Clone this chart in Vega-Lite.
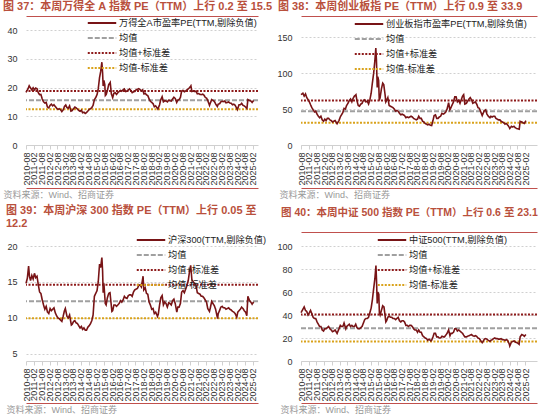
{
"$schema": "https://vega.github.io/schema/vega-lite/v6.json",
"padding": {"left": 3, "top": 1, "right": 4, "bottom": 2},
"columns": 2,
"bounds": "flush",
"spacing": {"row": 101, "column": 43},
"resolve": {"scale": {"color": "independent", "strokeDash": "independent"}, "legend": {"color": "independent", "strokeDash": "independent"}},
"config": {
  "font": "Liberation Sans, Noto Sans CJK SC",
  "view": {"stroke": null},
  "title": {"anchor": "start", "frame": "group", "fontSize": 11, "fontWeight": "bold", "color": "#B9503C", "font": "Liberation Sans, Noto Sans CJK SC"},
  "axisY": {"domain": false, "ticks": false, "grid": true, "gridColor": "#D0D0D0", "gridDash": [2, 2], "labelFontSize": 9, "labelColor": "#333333", "labelPadding": 9},
  "axisX": {"domainColor": "#D0D0D0", "tickColor": "#D0D0D0", "tickSize": 4, "grid": false, "labelAngle": 270, "labelFontSize": 9, "labelColor": "#333333", "labelPadding": 3, "labelOverlap": false, "titleFontSize": 9, "titleColor": "#999999", "titleFontWeight": "normal", "titleAlign": "left", "titleBaseline": "middle", "titleAnchor": "start"},
  "legend": {"orient": "none", "symbolType": "M-3,0H3", "symbolSize": 90, "symbolStrokeWidth": 2.2, "labelFontSize": 9.2, "labelColor": "#222222", "labelOffset": 11, "rowPadding": 3, "labelLimit": 400, "padding": 0}
},
"datasets": {
"wind_m": [{"s": "均值", "v": 15.6}, {"s": "均值+标准差", "v": 18.8}, {"s": "均值-标准差", "v": 12.4}],
"cyb_m": [{"s": "均值", "v": 47}, {"s": "均值+标准差", "v": 62}, {"s": "均值-标准差", "v": 31}],
"hs_m": [{"s": "均值", "v": 12.3}, {"s": "均值+标准差", "v": 14.6}, {"s": "均值-标准差", "v": 9.95}],
"zz_m": [{"s": "均值", "v": 28.5}, {"s": "均值+标准差", "v": 40.5}, {"s": "均值-标准差", "v": 17}],
"wind": [
{"d":"2010/08/01","v":18.3},{"d":"2010/09/15","v":19.5},{"d":"2010/10/15","v":20.6},{"d":"2010/11/15","v":19.8},{"d":"2010/12/15","v":19.2},
{"d":"2011/01/15","v":19.9},{"d":"2011/02/15","v":19.2},{"d":"2011/03/15","v":19.8},{"d":"2011/04/15","v":19.6},{"d":"2011/05/15","v":18.2},{"d":"2011/06/15","v":17.5},{"d":"2011/07/15","v":17.6},{"d":"2011/08/15","v":16.0},{"d":"2011/09/15","v":15.0},{"d":"2011/10/15","v":14.6},{"d":"2011/11/15","v":14.8},{"d":"2011/12/15","v":13.2},
{"d":"2012/01/15","v":12.9},{"d":"2012/02/15","v":13.8},{"d":"2012/03/15","v":14.2},{"d":"2012/04/15","v":13.6},{"d":"2012/05/15","v":14.0},{"d":"2012/06/15","v":13.4},{"d":"2012/07/15","v":12.8},{"d":"2012/08/15","v":12.4},{"d":"2012/09/15","v":12.6},{"d":"2012/10/15","v":12.3},{"d":"2012/11/15","v":11.6},{"d":"2012/12/15","v":12.2},
{"d":"2013/01/15","v":13.4},{"d":"2013/02/15","v":13.9},{"d":"2013/03/15","v":13.0},{"d":"2013/04/15","v":12.8},{"d":"2013/05/15","v":13.6},{"d":"2013/06/15","v":11.8},{"d":"2013/07/15","v":12.0},{"d":"2013/08/15","v":12.6},{"d":"2013/09/15","v":13.2},{"d":"2013/10/15","v":12.9},{"d":"2013/11/15","v":12.5},{"d":"2013/12/15","v":12.0},
{"d":"2014/01/15","v":11.7},{"d":"2014/02/15","v":12.1},{"d":"2014/03/15","v":11.2},{"d":"2014/04/15","v":11.4},{"d":"2014/05/15","v":11.0},{"d":"2014/06/15","v":11.3},{"d":"2014/07/15","v":11.8},{"d":"2014/08/15","v":12.4},{"d":"2014/09/15","v":12.6},{"d":"2014/10/15","v":13.0},{"d":"2014/11/15","v":13.8},{"d":"2014/12/15","v":15.8},
{"d":"2015/01/15","v":16.5},{"d":"2015/02/15","v":17.5},{"d":"2015/03/15","v":19.5},{"d":"2015/04/15","v":23.5},{"d":"2015/05/10","v":25.5},{"d":"2015/06/08","v":28.8},{"d":"2015/06/25","v":25.0},{"d":"2015/07/08","v":20.5},{"d":"2015/07/25","v":22.5},{"d":"2015/08/15","v":21.0},{"d":"2015/08/28","v":17.2},{"d":"2015/09/15","v":17.5},{"d":"2015/10/15","v":19.0},{"d":"2015/11/15","v":21.0},{"d":"2015/12/20","v":21.8},
{"d":"2016/01/15","v":17.8},{"d":"2016/02/15","v":16.5},{"d":"2016/03/15","v":18.0},{"d":"2016/04/15","v":18.2},{"d":"2016/05/15","v":17.6},{"d":"2016/06/15","v":18.2},{"d":"2016/07/15","v":18.6},{"d":"2016/08/15","v":19.0},{"d":"2016/09/15","v":18.7},{"d":"2016/10/15","v":19.2},{"d":"2016/11/15","v":19.5},{"d":"2016/12/15","v":18.6},
{"d":"2017/01/15","v":18.7},{"d":"2017/02/15","v":19.2},{"d":"2017/03/15","v":19.5},{"d":"2017/04/15","v":19.0},{"d":"2017/05/15","v":18.2},{"d":"2017/06/15","v":18.5},{"d":"2017/07/15","v":18.6},{"d":"2017/08/15","v":19.2},{"d":"2017/09/15","v":19.4},{"d":"2017/10/15","v":19.6},{"d":"2017/11/15","v":19.3},{"d":"2017/12/15","v":18.8},
{"d":"2018/01/15","v":19.2},{"d":"2018/02/15","v":17.8},{"d":"2018/03/15","v":18.0},{"d":"2018/04/15","v":17.4},{"d":"2018/05/15","v":17.2},{"d":"2018/06/15","v":16.0},{"d":"2018/07/15","v":15.2},{"d":"2018/08/15","v":14.8},{"d":"2018/09/15","v":14.4},{"d":"2018/10/15","v":13.3},{"d":"2018/11/15","v":13.6},{"d":"2018/12/15","v":13.0},
{"d":"2019/01/05","v":12.5},{"d":"2019/02/15","v":14.0},{"d":"2019/03/10","v":15.6},{"d":"2019/04/15","v":16.8},{"d":"2019/05/15","v":15.0},{"d":"2019/06/15","v":15.4},{"d":"2019/07/15","v":15.3},{"d":"2019/08/15","v":15.0},{"d":"2019/09/15","v":15.6},{"d":"2019/10/15","v":15.4},{"d":"2019/11/15","v":15.3},{"d":"2019/12/15","v":16.0},
{"d":"2020/01/15","v":16.6},{"d":"2020/02/15","v":16.2},{"d":"2020/03/20","v":14.8},{"d":"2020/04/15","v":15.6},{"d":"2020/05/15","v":15.8},{"d":"2020/06/15","v":16.5},{"d":"2020/07/15","v":18.8},{"d":"2020/08/15","v":19.0},{"d":"2020/09/15","v":18.5},{"d":"2020/10/15","v":18.8},{"d":"2020/11/15","v":19.2},{"d":"2020/12/15","v":19.5},
{"d":"2021/01/15","v":20.0},{"d":"2021/02/15","v":20.6},{"d":"2021/03/10","v":18.6},{"d":"2021/04/15","v":18.8},{"d":"2021/05/15","v":18.6},{"d":"2021/06/15","v":18.7},{"d":"2021/07/15","v":17.8},{"d":"2021/08/15","v":17.9},{"d":"2021/09/15","v":17.6},{"d":"2021/10/15","v":17.5},{"d":"2021/11/15","v":17.7},{"d":"2021/12/15","v":17.4},
{"d":"2022/01/15","v":16.6},{"d":"2022/02/15","v":16.3},{"d":"2022/03/15","v":15.5},{"d":"2022/04/25","v":13.8},{"d":"2022/05/15","v":14.6},{"d":"2022/06/15","v":15.8},{"d":"2022/07/15","v":15.5},{"d":"2022/08/15","v":15.2},{"d":"2022/09/15","v":14.3},{"d":"2022/10/25","v":13.4},{"d":"2022/11/15","v":14.2},{"d":"2022/12/15","v":14.3},
{"d":"2023/01/15","v":15.0},{"d":"2023/02/15","v":15.2},{"d":"2023/03/15","v":15.1},{"d":"2023/04/15","v":15.3},{"d":"2023/05/15","v":14.7},{"d":"2023/06/15","v":14.8},{"d":"2023/07/15","v":15.0},{"d":"2023/08/15","v":14.6},{"d":"2023/09/15","v":14.5},{"d":"2023/10/15","v":14.0},{"d":"2023/11/15","v":14.2},{"d":"2023/12/15","v":13.8},
{"d":"2024/01/20","v":12.8},{"d":"2024/02/05","v":12.3},{"d":"2024/03/15","v":14.0},{"d":"2024/04/15","v":14.0},{"d":"2024/05/15","v":14.5},{"d":"2024/06/15","v":13.8},{"d":"2024/07/15","v":13.6},{"d":"2024/08/15","v":13.2},{"d":"2024/09/15","v":12.7},{"d":"2024/10/08","v":15.8},{"d":"2024/11/15","v":15.5},{"d":"2024/12/15","v":15.3},
{"d":"2025/01/15","v":14.8},{"d":"2025/02/20","v":15.5}
],
"cyb": [
{"d":"2010/08/01","v":70},{"d":"2010/09/15","v":72},{"d":"2010/10/15","v":68},{"d":"2010/11/15","v":71},{"d":"2010/12/15","v":66},
{"d":"2011/01/15","v":63},{"d":"2011/02/15","v":60},{"d":"2011/03/15","v":56},{"d":"2011/04/15","v":52},{"d":"2011/05/15","v":49},{"d":"2011/06/15","v":46},{"d":"2011/07/15","v":47},{"d":"2011/08/15","v":43},{"d":"2011/09/15","v":40},{"d":"2011/10/15","v":38},{"d":"2011/11/15","v":40},{"d":"2011/12/15","v":35},
{"d":"2012/01/15","v":33},{"d":"2012/02/15","v":36},{"d":"2012/03/15","v":34},{"d":"2012/04/15","v":37},{"d":"2012/05/15","v":37},{"d":"2012/06/15","v":35},{"d":"2012/07/15","v":34},{"d":"2012/08/15","v":32},{"d":"2012/09/15","v":33},{"d":"2012/10/15","v":34},{"d":"2012/11/15","v":31},{"d":"2012/12/01","v":29.5},
{"d":"2013/01/15","v":34},{"d":"2013/02/15","v":39},{"d":"2013/03/15","v":42},{"d":"2013/04/15","v":45},{"d":"2013/05/15","v":51},{"d":"2013/06/15","v":50},{"d":"2013/07/15","v":55},{"d":"2013/08/15","v":58},{"d":"2013/09/15","v":62},{"d":"2013/10/15","v":64},{"d":"2013/11/15","v":60},{"d":"2013/12/15","v":65},
{"d":"2014/01/15","v":68},{"d":"2014/02/20","v":70},{"d":"2014/03/15","v":62},{"d":"2014/04/15","v":55},{"d":"2014/05/15","v":54},{"d":"2014/06/15","v":57},{"d":"2014/07/15","v":58},{"d":"2014/08/15","v":62},{"d":"2014/09/15","v":63},{"d":"2014/10/15","v":60},{"d":"2014/11/15","v":61},{"d":"2014/12/15","v":57},
{"d":"2015/01/15","v":63},{"d":"2015/02/15","v":72},{"d":"2015/03/15","v":86},{"d":"2015/04/15","v":100},{"d":"2015/05/15","v":118},{"d":"2015/06/05","v":135},{"d":"2015/06/20","v":118},{"d":"2015/07/08","v":80},{"d":"2015/07/22","v":95},{"d":"2015/08/10","v":90},{"d":"2015/08/26","v":62},{"d":"2015/09/15","v":66},{"d":"2015/10/15","v":78},{"d":"2015/11/15","v":86},{"d":"2015/12/10","v":84},
{"d":"2016/01/10","v":70},{"d":"2016/01/28","v":60},{"d":"2016/02/15","v":62},{"d":"2016/03/15","v":66},{"d":"2016/04/15","v":55},{"d":"2016/05/15","v":54},{"d":"2016/06/15","v":53},{"d":"2016/07/15","v":52},{"d":"2016/08/15","v":50},{"d":"2016/09/15","v":47},{"d":"2016/10/15","v":48},{"d":"2016/11/15","v":47},{"d":"2016/12/15","v":44},
{"d":"2017/01/15","v":42},{"d":"2017/02/15","v":43},{"d":"2017/03/15","v":42},{"d":"2017/04/15","v":41},{"d":"2017/05/15","v":38},{"d":"2017/06/15","v":39},{"d":"2017/07/15","v":38},{"d":"2017/08/15","v":39},{"d":"2017/09/15","v":40},{"d":"2017/10/15","v":39},{"d":"2017/11/15","v":37},{"d":"2017/12/15","v":36},
{"d":"2018/01/15","v":35},{"d":"2018/02/15","v":36},{"d":"2018/03/15","v":40},{"d":"2018/04/15","v":37},{"d":"2018/05/15","v":37},{"d":"2018/06/15","v":33},{"d":"2018/07/15","v":32},{"d":"2018/08/15","v":30},{"d":"2018/09/15","v":29},{"d":"2018/10/15","v":28},{"d":"2018/11/15","v":29},{"d":"2018/12/15","v":27.5},
{"d":"2019/01/15","v":27},{"d":"2019/02/15","v":34},{"d":"2019/03/15","v":41},{"d":"2019/04/15","v":42},{"d":"2019/05/15","v":37},{"d":"2019/06/15","v":37},{"d":"2019/07/15","v":39},{"d":"2019/08/15","v":40},{"d":"2019/09/15","v":44},{"d":"2019/10/15","v":43},{"d":"2019/11/15","v":44},{"d":"2019/12/15","v":46},
{"d":"2020/01/15","v":50},{"d":"2020/02/20","v":59},{"d":"2020/03/20","v":49},{"d":"2020/04/15","v":52},{"d":"2020/05/15","v":56},{"d":"2020/06/15","v":60},{"d":"2020/07/15","v":67},{"d":"2020/08/15","v":67},{"d":"2020/09/15","v":60},{"d":"2020/10/15","v":62},{"d":"2020/11/15","v":58},{"d":"2020/12/15","v":63},
{"d":"2021/01/15","v":68},{"d":"2021/02/10","v":70},{"d":"2021/03/10","v":57},{"d":"2021/04/15","v":58},{"d":"2021/05/15","v":61},{"d":"2021/06/15","v":64},{"d":"2021/07/15","v":66},{"d":"2021/08/15","v":63},{"d":"2021/09/15","v":58},{"d":"2021/10/15","v":59},{"d":"2021/11/15","v":60},{"d":"2021/12/15","v":57},
{"d":"2022/01/15","v":52},{"d":"2022/02/15","v":51},{"d":"2022/03/15","v":47},{"d":"2022/04/25","v":41},{"d":"2022/05/15","v":44},{"d":"2022/06/15","v":48},{"d":"2022/07/15","v":49},{"d":"2022/08/15","v":43},{"d":"2022/09/15","v":40},{"d":"2022/10/25","v":38},{"d":"2022/11/15","v":40},{"d":"2022/12/15","v":39},
{"d":"2023/01/15","v":40},{"d":"2023/02/15","v":40},{"d":"2023/03/15","v":37},{"d":"2023/04/15","v":36},{"d":"2023/05/15","v":35},{"d":"2023/06/15","v":35},{"d":"2023/07/15","v":33},{"d":"2023/08/15","v":32},{"d":"2023/09/15","v":31},{"d":"2023/10/15","v":29},{"d":"2023/11/15","v":30},{"d":"2023/12/15","v":28},
{"d":"2024/01/20","v":25},{"d":"2024/02/05","v":23},{"d":"2024/03/15","v":26},{"d":"2024/04/15","v":25},{"d":"2024/05/15","v":26},{"d":"2024/06/15","v":24},{"d":"2024/07/15","v":23},{"d":"2024/08/15","v":22.5},{"d":"2024/09/15","v":22},{"d":"2024/10/08","v":33},{"d":"2024/11/15","v":32},{"d":"2024/12/15","v":31},
{"d":"2025/01/15","v":30},{"d":"2025/02/20","v":33.9}
],
"hs": [
{"d":"2010/08/01","v":14.8},{"d":"2010/09/01","v":15.5},{"d":"2010/10/01","v":17.2},{"d":"2010/10/20","v":15.8},{"d":"2010/11/15","v":15.2},{"d":"2010/12/15","v":15.9},
{"d":"2011/01/15","v":15.4},{"d":"2011/02/15","v":16.2},{"d":"2011/03/15","v":15.6},{"d":"2011/04/15","v":15.8},{"d":"2011/05/15","v":14.6},{"d":"2011/06/15","v":13.6},{"d":"2011/07/15","v":13.4},{"d":"2011/08/15","v":12.5},{"d":"2011/09/15","v":11.8},{"d":"2011/10/15","v":11.2},{"d":"2011/11/15","v":11.6},{"d":"2011/12/15","v":10.8},
{"d":"2012/01/15","v":10.6},{"d":"2012/02/15","v":11.3},{"d":"2012/03/15","v":11.0},{"d":"2012/04/15","v":11.2},{"d":"2012/05/15","v":11.4},{"d":"2012/06/15","v":10.7},{"d":"2012/07/15","v":10.3},{"d":"2012/08/15","v":10.0},{"d":"2012/09/15","v":9.9},{"d":"2012/10/15","v":9.7},{"d":"2012/11/15","v":9.5},{"d":"2012/12/15","v":10.2},
{"d":"2013/01/15","v":11.0},{"d":"2013/02/05","v":11.3},{"d":"2013/03/15","v":10.2},{"d":"2013/04/15","v":10.0},{"d":"2013/05/15","v":10.4},{"d":"2013/06/25","v":9.0},{"d":"2013/07/15","v":9.1},{"d":"2013/08/15","v":9.5},{"d":"2013/09/15","v":9.6},{"d":"2013/10/15","v":9.3},{"d":"2013/11/15","v":9.2},{"d":"2013/12/15","v":8.9},
{"d":"2014/01/15","v":8.6},{"d":"2014/02/15","v":8.8},{"d":"2014/03/15","v":8.4},{"d":"2014/04/15","v":8.6},{"d":"2014/05/15","v":8.3},{"d":"2014/06/15","v":8.3},{"d":"2014/07/15","v":8.7},{"d":"2014/08/15","v":8.9},{"d":"2014/09/15","v":9.2},{"d":"2014/10/15","v":9.6},{"d":"2014/11/15","v":10.4},{"d":"2014/12/15","v":13.0},
{"d":"2015/01/15","v":13.4},{"d":"2015/02/15","v":13.8},{"d":"2015/03/15","v":15.0},{"d":"2015/04/15","v":17.5},{"d":"2015/05/10","v":17.0},{"d":"2015/06/08","v":18.4},{"d":"2015/06/25","v":16.5},{"d":"2015/07/08","v":13.5},{"d":"2015/07/25","v":14.8},{"d":"2015/08/26","v":12.0},{"d":"2015/09/15","v":11.8},{"d":"2015/10/15","v":12.8},{"d":"2015/11/15","v":13.4},{"d":"2015/12/15","v":13.5},
{"d":"2016/01/28","v":10.9},{"d":"2016/02/15","v":11.0},{"d":"2016/03/15","v":11.8},{"d":"2016/04/15","v":11.8},{"d":"2016/05/15","v":11.6},{"d":"2016/06/15","v":11.8},{"d":"2016/07/15","v":12.0},{"d":"2016/08/15","v":12.4},{"d":"2016/09/15","v":12.2},{"d":"2016/10/15","v":12.5},{"d":"2016/11/15","v":13.0},{"d":"2016/12/15","v":12.8},
{"d":"2017/01/15","v":12.7},{"d":"2017/02/15","v":13.1},{"d":"2017/03/15","v":13.2},{"d":"2017/04/15","v":13.2},{"d":"2017/05/15","v":13.0},{"d":"2017/06/15","v":13.6},{"d":"2017/07/15","v":13.9},{"d":"2017/08/15","v":14.0},{"d":"2017/09/15","v":14.1},{"d":"2017/10/15","v":14.5},{"d":"2017/11/15","v":14.6},{"d":"2017/12/15","v":14.3},
{"d":"2018/01/25","v":15.8},{"d":"2018/02/10","v":13.9},{"d":"2018/03/15","v":14.2},{"d":"2018/04/15","v":13.4},{"d":"2018/05/15","v":13.3},{"d":"2018/06/15","v":12.2},{"d":"2018/07/15","v":11.8},{"d":"2018/08/15","v":11.2},{"d":"2018/09/15","v":11.3},{"d":"2018/10/15","v":10.6},{"d":"2018/11/15","v":10.8},{"d":"2018/12/28","v":10.2},
{"d":"2019/01/15","v":10.5},{"d":"2019/02/15","v":11.8},{"d":"2019/03/15","v":12.8},{"d":"2019/04/15","v":13.1},{"d":"2019/05/15","v":11.8},{"d":"2019/06/15","v":12.2},{"d":"2019/07/15","v":12.0},{"d":"2019/08/15","v":11.5},{"d":"2019/09/15","v":12.1},{"d":"2019/10/15","v":12.0},{"d":"2019/11/15","v":11.8},{"d":"2019/12/15","v":12.4},
{"d":"2020/01/15","v":12.6},{"d":"2020/02/15","v":12.0},{"d":"2020/03/23","v":10.8},{"d":"2020/04/15","v":11.5},{"d":"2020/05/15","v":11.5},{"d":"2020/06/15","v":12.0},{"d":"2020/07/15","v":13.6},{"d":"2020/08/15","v":13.8},{"d":"2020/09/15","v":13.5},{"d":"2020/10/15","v":14.0},{"d":"2020/11/15","v":14.5},{"d":"2020/12/15","v":15.2},
{"d":"2021/01/15","v":16.5},{"d":"2021/02/10","v":17.3},{"d":"2021/03/10","v":15.3},{"d":"2021/04/15","v":15.0},{"d":"2021/05/15","v":14.8},{"d":"2021/06/15","v":14.5},{"d":"2021/07/15","v":13.5},{"d":"2021/08/15","v":13.4},{"d":"2021/09/15","v":13.3},{"d":"2021/10/15","v":13.0},{"d":"2021/11/15","v":13.0},{"d":"2021/12/15","v":12.8},
{"d":"2022/01/15","v":12.5},{"d":"2022/02/15","v":12.2},{"d":"2022/03/15","v":11.3},{"d":"2022/04/25","v":10.9},{"d":"2022/05/15","v":11.4},{"d":"2022/06/15","v":12.3},{"d":"2022/07/15","v":12.0},{"d":"2022/08/15","v":11.7},{"d":"2022/09/15","v":11.2},{"d":"2022/10/31","v":9.9},{"d":"2022/11/15","v":10.6},{"d":"2022/12/15","v":11.0},
{"d":"2023/01/15","v":11.5},{"d":"2023/02/15","v":11.6},{"d":"2023/03/15","v":11.4},{"d":"2023/04/15","v":11.4},{"d":"2023/05/15","v":11.2},{"d":"2023/06/15","v":11.3},{"d":"2023/07/15","v":11.4},{"d":"2023/08/15","v":11.2},{"d":"2023/09/15","v":11.1},{"d":"2023/10/15","v":10.9},{"d":"2023/11/15","v":10.8},{"d":"2023/12/15","v":10.6},
{"d":"2024/01/22","v":10.1},{"d":"2024/02/15","v":10.8},{"d":"2024/03/15","v":11.0},{"d":"2024/04/15","v":11.2},{"d":"2024/05/15","v":11.5},{"d":"2024/06/15","v":11.3},{"d":"2024/07/15","v":11.0},{"d":"2024/08/15","v":10.8},{"d":"2024/09/13","v":10.3},{"d":"2024/10/08","v":13.0},{"d":"2024/11/15","v":12.4},{"d":"2024/12/15","v":12.2},
{"d":"2025/01/15","v":11.9},{"d":"2025/02/20","v":12.2}
],
"zz": [
{"d":"2010/08/01","v":42},{"d":"2010/09/15","v":45},{"d":"2010/10/15","v":47},{"d":"2010/11/15","v":44},{"d":"2010/12/15","v":43},
{"d":"2011/01/15","v":40},{"d":"2011/02/15","v":42},{"d":"2011/03/15","v":44},{"d":"2011/04/15","v":41},{"d":"2011/05/15","v":38},{"d":"2011/06/15","v":37},{"d":"2011/07/15","v":37},{"d":"2011/08/15","v":34},{"d":"2011/09/15","v":32},{"d":"2011/10/15","v":30},{"d":"2011/11/15","v":30},{"d":"2011/12/15","v":27},
{"d":"2012/01/15","v":26},{"d":"2012/02/15","v":28},{"d":"2012/03/15","v":28},{"d":"2012/04/15","v":29},{"d":"2012/05/15","v":30},{"d":"2012/06/15","v":28},{"d":"2012/07/15","v":27},{"d":"2012/08/15","v":25.5},{"d":"2012/09/15","v":26},{"d":"2012/10/15","v":27},{"d":"2012/11/15","v":25},{"d":"2012/12/01","v":24},
{"d":"2013/01/15","v":28},{"d":"2013/02/15","v":31},{"d":"2013/03/15","v":30},{"d":"2013/04/15","v":30},{"d":"2013/05/15","v":33},{"d":"2013/06/25","v":28},{"d":"2013/07/15","v":30},{"d":"2013/08/15","v":31},{"d":"2013/09/15","v":32},{"d":"2013/10/15","v":30},{"d":"2013/11/15","v":31},{"d":"2013/12/15","v":30},
{"d":"2014/01/15","v":30},{"d":"2014/02/15","v":32},{"d":"2014/03/15","v":29},{"d":"2014/04/15","v":28},{"d":"2014/05/15","v":28},{"d":"2014/06/15","v":29},{"d":"2014/07/15","v":30},{"d":"2014/08/15","v":33},{"d":"2014/09/15","v":36},{"d":"2014/10/15","v":37},{"d":"2014/11/15","v":37},{"d":"2014/12/15","v":38},
{"d":"2015/01/15","v":42},{"d":"2015/02/15","v":46},{"d":"2015/03/15","v":53},{"d":"2015/04/15","v":63},{"d":"2015/05/15","v":72},{"d":"2015/06/08","v":83},{"d":"2015/06/22","v":70},{"d":"2015/07/08","v":50},{"d":"2015/07/22","v":60},{"d":"2015/08/15","v":58},{"d":"2015/08/28","v":42},{"d":"2015/09/15","v":40},{"d":"2015/10/15","v":44},{"d":"2015/11/15","v":48},{"d":"2015/12/15","v":47},
{"d":"2016/01/28","v":34},{"d":"2016/02/15","v":35},{"d":"2016/03/15","v":38},{"d":"2016/04/15","v":39},{"d":"2016/05/15","v":38},{"d":"2016/06/15","v":38},{"d":"2016/07/15","v":37},{"d":"2016/08/15","v":37},{"d":"2016/09/15","v":36},{"d":"2016/10/15","v":37},{"d":"2016/11/15","v":38},{"d":"2016/12/15","v":35},
{"d":"2017/01/15","v":34},{"d":"2017/02/15","v":35},{"d":"2017/03/15","v":35},{"d":"2017/04/15","v":34},{"d":"2017/05/15","v":31},{"d":"2017/06/15","v":31},{"d":"2017/07/15","v":30},{"d":"2017/08/15","v":31},{"d":"2017/09/15","v":31},{"d":"2017/10/15","v":30},{"d":"2017/11/15","v":28},{"d":"2017/12/15","v":27},
{"d":"2018/01/15","v":27},{"d":"2018/02/15","v":25},{"d":"2018/03/15","v":27},{"d":"2018/04/15","v":25},{"d":"2018/05/15","v":25},{"d":"2018/06/15","v":22},{"d":"2018/07/15","v":21},{"d":"2018/08/15","v":20},{"d":"2018/09/15","v":19.5},{"d":"2018/10/15","v":18},{"d":"2018/11/15","v":19},{"d":"2018/12/28","v":17.5},
{"d":"2019/01/15","v":18},{"d":"2019/02/15","v":21},{"d":"2019/03/15","v":24},{"d":"2019/04/15","v":24},{"d":"2019/05/15","v":21},{"d":"2019/06/15","v":21},{"d":"2019/07/15","v":20},{"d":"2019/08/15","v":20},{"d":"2019/09/15","v":21.5},{"d":"2019/10/15","v":21},{"d":"2019/11/15","v":21},{"d":"2019/12/15","v":22.5},
{"d":"2020/01/15","v":24},{"d":"2020/02/20","v":27},{"d":"2020/03/23","v":22},{"d":"2020/04/15","v":24},{"d":"2020/05/15","v":24},{"d":"2020/06/15","v":25},{"d":"2020/07/15","v":28},{"d":"2020/08/15","v":28},{"d":"2020/09/15","v":26},{"d":"2020/10/15","v":27},{"d":"2020/11/15","v":26},{"d":"2020/12/15","v":25},
{"d":"2021/01/15","v":24},{"d":"2021/02/10","v":22.5},{"d":"2021/03/10","v":21},{"d":"2021/04/15","v":21},{"d":"2021/05/15","v":21.5},{"d":"2021/06/15","v":22},{"d":"2021/07/15","v":22.5},{"d":"2021/08/15","v":23},{"d":"2021/09/15","v":22},{"d":"2021/10/15","v":21.5},{"d":"2021/11/15","v":22},{"d":"2021/12/15","v":21.5},
{"d":"2022/01/15","v":20},{"d":"2022/02/15","v":19.5},{"d":"2022/03/15","v":18},{"d":"2022/04/25","v":16},{"d":"2022/05/15","v":17},{"d":"2022/06/15","v":19},{"d":"2022/07/15","v":19.5},{"d":"2022/08/15","v":19},{"d":"2022/09/15","v":18},{"d":"2022/10/25","v":17},{"d":"2022/11/15","v":18},{"d":"2022/12/15","v":18.5},
{"d":"2023/01/15","v":19.5},{"d":"2023/02/15","v":20},{"d":"2023/03/15","v":19.5},{"d":"2023/04/15","v":19.5},{"d":"2023/05/15","v":19},{"d":"2023/06/15","v":19},{"d":"2023/07/15","v":19.5},{"d":"2023/08/15","v":18.5},{"d":"2023/09/15","v":18.5},{"d":"2023/10/15","v":18},{"d":"2023/11/15","v":18.5},{"d":"2023/12/15","v":18},
{"d":"2024/01/22","v":15},{"d":"2024/02/05","v":13},{"d":"2024/03/15","v":16.5},{"d":"2024/04/15","v":17},{"d":"2024/05/15","v":17.5},{"d":"2024/06/15","v":16.5},{"d":"2024/07/15","v":16},{"d":"2024/08/15","v":15.5},{"d":"2024/09/13","v":14.5},{"d":"2024/10/08","v":21},{"d":"2024/11/15","v":23},{"d":"2024/12/15","v":22.5},
{"d":"2025/01/15","v":21.5},{"d":"2025/02/20","v":23.1}
]
},
"concat": [
{
  "width": 232, "height": 115,
  "title": {"text": "图 37：本周万得全 A 指数 PE（TTM）上行 0.2 至 15.5", "dx": -23, "offset": 4},
  "resolve": {"axis": {"x": "independent"}},
  "layer": [
    {"data": {"name": "wind_m"}, "mark": {"type": "rule", "strokeWidth": 2},
     "encoding": {"y": {"field": "v", "type": "quantitative", "title": null, "scale": {"domain": [0, 40]}, "axis": {"values": [0, 10, 20, 30, 40]}}, "color": {"field": "s", "type": "nominal", "title": null}, "strokeDash": {"field": "s", "type": "nominal", "title": null}}},
    {"data": {"name": "wind"}, "mark": {"type": "line", "strokeWidth": 1.6},
     "encoding": {
       "x": {"field": "d", "type": "temporal", "title": "资料来源：Wind、招商证券", "scale": {"domain": [{"year": 2010, "month": 8, "date": 1}, {"year": 2025, "month": 6, "date": 1}]},
             "axis": {"orient": "bottom", "format": "%Y-%m", "titleX": -23, "titleY": 49, "values": [{"year":2010,"month":8},{"year":2011,"month":2},{"year":2011,"month":8},{"year":2012,"month":2},{"year":2012,"month":8},{"year":2013,"month":2},{"year":2013,"month":8},{"year":2014,"month":2},{"year":2014,"month":8},{"year":2015,"month":2},{"year":2015,"month":8},{"year":2016,"month":2},{"year":2016,"month":8},{"year":2017,"month":2},{"year":2017,"month":8},{"year":2018,"month":2},{"year":2018,"month":8},{"year":2019,"month":2},{"year":2019,"month":8},{"year":2020,"month":2},{"year":2020,"month":8},{"year":2021,"month":2},{"year":2021,"month":8},{"year":2022,"month":2},{"year":2022,"month":8},{"year":2023,"month":2},{"year":2023,"month":8},{"year":2024,"month":2},{"year":2024,"month":8},{"year":2025,"month":2}]}},
       "y": {"field": "v", "type": "quantitative", "title": null, "scale": {"domain": [0, 40]}, "axis": {"values": [0, 10, 20, 30, 40]}},
       "color": {"datum": "万得全A市盈率PE(TTM,剔除负值)", "type": "nominal", "title": null, "scale": {"domain": ["万得全A市盈率PE(TTM,剔除负值)", "均值", "均值+标准差", "均值-标准差"], "range": ["#781416", "#A0A0A0", "#8E1B1B", "#D9A21B"]}, "legend": {"title": null, "legendX": 70, "legendY": -13}},
       "strokeDash": {"datum": "万得全A市盈率PE(TTM,剔除负值)", "type": "nominal", "title": null, "scale": {"domain": ["万得全A市盈率PE(TTM,剔除负值)", "均值", "均值+标准差", "均值-标准差"], "range": [[1, 0], [5, 2], [2, 1.5], [2, 1.5]]}, "legend": {"title": null, "legendX": 70, "legendY": -13}}
     }},
    {"data": {"name": "wind"}, "mark": {"type": "line", "opacity": 0},
     "encoding": {
       "x": {"field": "d", "type": "temporal", "title": null, "axis": {"orient": "top", "offset": 14, "domainColor": "#C0504D", "ticks": false, "labels": false, "grid": false}},
       "y": {"field": "v", "type": "quantitative", "title": null, "axis": {"values": [0, 10, 20, 30, 40]}}}},
    {"data": {"name": "wind"}, "mark": {"type": "line", "opacity": 0},
     "encoding": {
       "x": {"field": "d", "type": "temporal", "title": null, "axis": {"orient": "bottom", "offset": 43, "domainColor": "#C0504D", "ticks": false, "labels": false, "grid": false}},
       "y": {"field": "v", "type": "quantitative", "title": null, "axis": {"values": [0, 10, 20, 30, 40]}}}}
  ]
},
{
  "width": 236, "height": 115,
  "title": {"text": "图 38：本周创业板指 PE（TTM）上行 0.9 至 33.9", "dx": -23, "offset": 4},
  "resolve": {"axis": {"x": "independent"}},
  "layer": [
    {"data": {"name": "cyb_m"}, "mark": {"type": "rule", "strokeWidth": 2},
     "encoding": {"y": {"field": "v", "type": "quantitative", "title": null, "scale": {"domain": [0, 150]}, "axis": {"values": [0, 50, 100, 150]}}, "color": {"field": "s", "type": "nominal", "title": null}, "strokeDash": {"field": "s", "type": "nominal", "title": null}}},
    {"data": {"name": "cyb"}, "mark": {"type": "line", "strokeWidth": 1.6},
     "encoding": {
       "x": {"field": "d", "type": "temporal", "title": "资料来源：Wind、招商证券", "scale": {"domain": [{"year": 2010, "month": 8, "date": 1}, {"year": 2025, "month": 11, "date": 10}]},
             "axis": {"orient": "bottom", "format": "%Y-%m", "titleX": -22, "titleY": 49, "values": [{"year":2010,"month":8},{"year":2011,"month":2},{"year":2011,"month":8},{"year":2012,"month":2},{"year":2012,"month":8},{"year":2013,"month":2},{"year":2013,"month":8},{"year":2014,"month":2},{"year":2014,"month":8},{"year":2015,"month":2},{"year":2015,"month":8},{"year":2016,"month":2},{"year":2016,"month":8},{"year":2017,"month":2},{"year":2017,"month":8},{"year":2018,"month":2},{"year":2018,"month":8},{"year":2019,"month":2},{"year":2019,"month":8},{"year":2020,"month":2},{"year":2020,"month":8},{"year":2021,"month":2},{"year":2021,"month":8},{"year":2022,"month":2},{"year":2022,"month":8},{"year":2023,"month":2},{"year":2023,"month":8},{"year":2024,"month":2},{"year":2024,"month":8},{"year":2025,"month":2}]}},
       "y": {"field": "v", "type": "quantitative", "title": null, "scale": {"domain": [0, 150]}, "axis": {"values": [0, 50, 100, 150]}},
       "color": {"datum": "创业板指市盈率PE(TTM,剔除负值)", "type": "nominal", "title": null, "scale": {"domain": ["创业板指市盈率PE(TTM,剔除负值)", "均值", "均值+标准差", "均值-标准差"], "range": ["#781416", "#A0A0A0", "#8E1B1B", "#D9A21B"]}, "legend": {"title": null, "legendX": 62, "legendY": -12}},
       "strokeDash": {"datum": "创业板指市盈率PE(TTM,剔除负值)", "type": "nominal", "title": null, "scale": {"domain": ["创业板指市盈率PE(TTM,剔除负值)", "均值", "均值+标准差", "均值-标准差"], "range": [[1, 0], [5, 2], [2, 1.5], [2, 1.5]]}, "legend": {"title": null, "legendX": 62, "legendY": -12}}
     }},
    {"data": {"name": "cyb"}, "mark": {"type": "line", "opacity": 0},
     "encoding": {
       "x": {"field": "d", "type": "temporal", "title": null, "axis": {"orient": "top", "offset": 14, "domainColor": "#C0504D", "ticks": false, "labels": false, "grid": false}},
       "y": {"field": "v", "type": "quantitative", "title": null, "axis": {"values": [0, 50, 100, 150]}}}},
    {"data": {"name": "cyb"}, "mark": {"type": "line", "opacity": 0},
     "encoding": {
       "x": {"field": "d", "type": "temporal", "title": null, "axis": {"orient": "bottom", "offset": 43, "domainColor": "#C0504D", "ticks": false, "labels": false, "grid": false}},
       "y": {"field": "v", "type": "quantitative", "title": null, "axis": {"values": [0, 50, 100, 150]}}}}
  ]
},
{
  "width": 232, "height": 115,
  "title": {"text": ["图 39：本周沪深 300 指数 PE（TTM）上行 0.05 至", "12.2"], "dx": -20, "offset": 5},
  "resolve": {"axis": {"x": "independent"}},
  "layer": [
    {"data": {"name": "hs_m"}, "mark": {"type": "rule", "strokeWidth": 2},
     "encoding": {"y": {"field": "v", "type": "quantitative", "title": null, "scale": {"domain": [5, 20]}, "axis": {"values": [5, 10, 15, 20]}}, "color": {"field": "s", "type": "nominal", "title": null}, "strokeDash": {"field": "s", "type": "nominal", "title": null}}},
    {"data": {"name": "hs"}, "mark": {"type": "line", "strokeWidth": 1.6},
     "encoding": {
       "x": {"field": "d", "type": "temporal", "title": "资料来源：Wind、招商证券", "scale": {"domain": [{"year": 2010, "month": 8, "date": 1}, {"year": 2025, "month": 6, "date": 1}]},
             "axis": {"orient": "bottom", "format": "%Y-%m", "titleX": -20, "titleY": 48, "values": [{"year":2010,"month":8},{"year":2011,"month":2},{"year":2011,"month":8},{"year":2012,"month":2},{"year":2012,"month":8},{"year":2013,"month":2},{"year":2013,"month":8},{"year":2014,"month":2},{"year":2014,"month":8},{"year":2015,"month":2},{"year":2015,"month":8},{"year":2016,"month":2},{"year":2016,"month":8},{"year":2017,"month":2},{"year":2017,"month":8},{"year":2018,"month":2},{"year":2018,"month":8},{"year":2019,"month":2},{"year":2019,"month":8},{"year":2020,"month":2},{"year":2020,"month":8},{"year":2021,"month":2},{"year":2021,"month":8},{"year":2022,"month":2},{"year":2022,"month":8},{"year":2023,"month":2},{"year":2023,"month":8},{"year":2024,"month":2},{"year":2024,"month":8},{"year":2025,"month":2}]}},
       "y": {"field": "v", "type": "quantitative", "title": null, "scale": {"domain": [5, 20]}, "axis": {"values": [5, 10, 15, 20]}},
       "color": {"datum": "沪深300(TTM,剔除负值)", "type": "nominal", "title": null, "scale": {"domain": ["沪深300(TTM,剔除负值)", "均值", "均值+标准差", "均值-标准差"], "range": ["#781416", "#A0A0A0", "#8E1B1B", "#D9A21B"]}, "legend": {"title": null, "legendX": 119, "legendY": -12}},
       "strokeDash": {"datum": "沪深300(TTM,剔除负值)", "type": "nominal", "title": null, "scale": {"domain": ["沪深300(TTM,剔除负值)", "均值", "均值+标准差", "均值-标准差"], "range": [[1, 0], [5, 2], [2, 1.5], [2, 1.5]]}, "legend": {"title": null, "legendX": 119, "legendY": -12}}
     }},
    {"data": {"name": "hs"}, "mark": {"type": "line", "opacity": 0},
     "encoding": {
       "x": {"field": "d", "type": "temporal", "title": null, "axis": {"orient": "bottom", "offset": 42, "domainColor": "#C0504D", "ticks": false, "labels": false, "grid": false}},
       "y": {"field": "v", "type": "quantitative", "title": null, "axis": {"values": [5, 10, 15, 20]}}}}
  ]
},
{
  "width": 236, "height": 115,
  "title": {"text": "图 40：本周中证 500 指数 PE（TTM）上行 0.6 至 23.1", "dx": -20, "offset": 14, "fontSize": 10.5},
  "resolve": {"axis": {"x": "independent"}},
  "layer": [
    {"data": {"name": "zz_m"}, "mark": {"type": "rule", "strokeWidth": 2},
     "encoding": {"y": {"field": "v", "type": "quantitative", "title": null, "scale": {"domain": [0, 100]}, "axis": {"values": [0, 20, 40, 60, 80, 100]}}, "color": {"field": "s", "type": "nominal", "title": null}, "strokeDash": {"field": "s", "type": "nominal", "title": null}}},
    {"data": {"name": "zz"}, "mark": {"type": "line", "strokeWidth": 1.6},
     "encoding": {
       "x": {"field": "d", "type": "temporal", "title": "资料来源：Wind、招商证券", "scale": {"domain": [{"year": 2010, "month": 8, "date": 1}, {"year": 2025, "month": 11, "date": 10}]},
             "axis": {"orient": "bottom", "format": "%Y-%m", "titleX": -21, "titleY": 48, "values": [{"year":2010,"month":8},{"year":2011,"month":2},{"year":2011,"month":8},{"year":2012,"month":2},{"year":2012,"month":8},{"year":2013,"month":2},{"year":2013,"month":8},{"year":2014,"month":2},{"year":2014,"month":8},{"year":2015,"month":2},{"year":2015,"month":8},{"year":2016,"month":2},{"year":2016,"month":8},{"year":2017,"month":2},{"year":2017,"month":8},{"year":2018,"month":2},{"year":2018,"month":8},{"year":2019,"month":2},{"year":2019,"month":8},{"year":2020,"month":2},{"year":2020,"month":8},{"year":2021,"month":2},{"year":2021,"month":8},{"year":2022,"month":2},{"year":2022,"month":8},{"year":2023,"month":2},{"year":2023,"month":8},{"year":2024,"month":2},{"year":2024,"month":8},{"year":2025,"month":2}]}},
       "y": {"field": "v", "type": "quantitative", "title": null, "scale": {"domain": [0, 100]}, "axis": {"values": [0, 20, 40, 60, 80, 100]}},
       "color": {"datum": "中证500(TTM,剔除负值)", "type": "nominal", "title": null, "scale": {"domain": ["中证500(TTM,剔除负值)", "均值", "均值+标准差", "均值-标准差"], "range": ["#781416", "#A0A0A0", "#8E1B1B", "#D9A21B"]}, "legend": {"title": null, "legendX": 85, "legendY": -12}},
       "strokeDash": {"datum": "中证500(TTM,剔除负值)", "type": "nominal", "title": null, "scale": {"domain": ["中证500(TTM,剔除负值)", "均值", "均值+标准差", "均值-标准差"], "range": [[1, 0], [5, 2], [2, 1.5], [2, 1.5]]}, "legend": {"title": null, "legendX": 85, "legendY": -12}}
     }},
    {"data": {"name": "zz"}, "mark": {"type": "line", "opacity": 0},
     "encoding": {
       "x": {"field": "d", "type": "temporal", "title": null, "axis": {"orient": "top", "offset": 14, "domainColor": "#C0504D", "ticks": false, "labels": false, "grid": false}},
       "y": {"field": "v", "type": "quantitative", "title": null, "axis": {"values": [0, 20, 40, 60, 80, 100]}}}},
    {"data": {"name": "zz"}, "mark": {"type": "line", "opacity": 0},
     "encoding": {
       "x": {"field": "d", "type": "temporal", "title": null, "axis": {"orient": "bottom", "offset": 42, "domainColor": "#C0504D", "ticks": false, "labels": false, "grid": false}},
       "y": {"field": "v", "type": "quantitative", "title": null, "axis": {"values": [0, 20, 40, 60, 80, 100]}}}}
  ]
}
]
}
